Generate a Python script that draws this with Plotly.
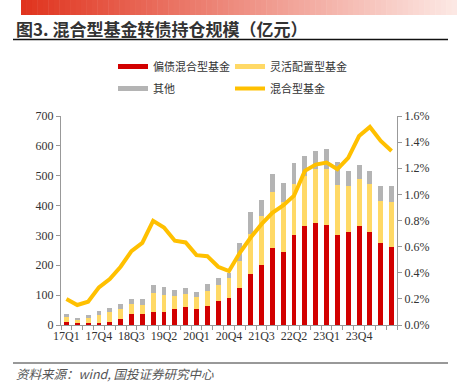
import plotly.graph_objects as go

quarters = ["17Q1","17Q2","17Q3","17Q4","18Q1","18Q2","18Q3","18Q4",
            "19Q1","19Q2","19Q3","19Q4","20Q1","20Q2","20Q3","20Q4",
            "21Q1","21Q2","21Q3","21Q4","22Q1","22Q2","22Q3","22Q4",
            "23Q1","23Q2","23Q3","23Q4","24Q1","24Q2","24Q3"]
tick_labels = ["17Q1","17Q4","18Q3","19Q2","20Q1","20Q4","21Q3","22Q2","23Q1","23Q4"]
bond_mixed = [11, 8, 8, 8, 11, 20, 36, 36, 45, 45, 52, 60, 52, 65, 80, 92,
              125, 170, 201, 259, 245, 301, 331, 342, 334, 302, 311, 331, 311, 273, 262]
flexible = [15, 11, 18, 24, 34, 32, 35, 31, 61, 56, 45, 44, 42, 49, 53, 65,
            88, 134, 164, 186, 166, 172, 169, 180, 188, 166, 154, 157, 162, 143, 149]
others = [11, 3, 6, 16, 12, 17, 17, 21, 28, 25, 19, 21, 15, 24, 24, 18,
          60, 75, 55, 60, 65, 68, 65, 60, 68, 78, 52, 49, 44, 49, 54]
mixed_ratio = [0.199, 0.153, 0.178, 0.288, 0.352, 0.446, 0.566, 0.628, 0.797, 0.747,
               0.645, 0.632, 0.535, 0.527, 0.446, 0.413, 0.553, 0.670, 0.772, 0.859,
               0.915, 0.990, 1.180, 1.228, 1.243, 1.193, 1.279, 1.447, 1.516, 1.409, 1.332]
left_ticks = [0, 100, 200, 300, 400, 500, 600, 700]
right_ticks = [0.0, 0.2, 0.4, 0.6, 0.8, 1.0, 1.2, 1.4, 1.6]

names = ["偏债混合型基金", "灵活配置型基金", "其他", "混合型基金"]
RED, YEL, GRY, ORG = "#D20000", "#FFD966", "#B4B4B4", "#FFC000"

xs = list(range(len(quarters)))
tick_pos = [quarters.index(q) for q in tick_labels]
ratio_frac = [v / 100 for v in mixed_ratio]

fig = go.Figure()
for vals, col in [(bond_mixed, RED), (flexible, YEL), (others, GRY)]:
    fig.add_trace(go.Bar(x=xs, y=vals, marker=dict(color=col, line=dict(width=0)),
                         showlegend=False, yaxis="y"))
fig.add_trace(go.Scatter(x=xs, y=ratio_frac, mode="lines", line=dict(color=ORG, width=4),
                         showlegend=False, yaxis="y2"))

# legend entries
leg_font = dict(family="Noto Sans CJK SC", size=11, color="#333333")
for name, col, lg, w in [(names[0], RED, "legend", 5), (names[2], GRY, "legend", 5),
                         (names[1], YEL, "legend2", 5), (names[3], ORG, "legend2", 4)]:
    fig.add_trace(go.Scatter(x=[None], y=[None], mode="lines", name=name,
                             line=dict(color=col, width=w), legend=lg,
                             legendgroup=name, showlegend=True))

L, R, T, B = 61, 60, 116, 65
W, H = 457, 390
pw = W - L - R
ph = H - T - B

def px2paper_x(px):
    return (px - L) / pw

def py2paper_y(py):
    return (H - B - py) / ph

shapes = []
# gradient header band
n = 80
x0, x1 = 21, 457
c0 = (224, 52, 30)
c1 = (252, 232, 228)
for i in range(n):
    t = i / (n - 1)
    c = tuple(int(round(c0[k] + (c1[k] - c0[k]) * t)) for k in range(3))
    xa = x0 + (x1 - x0) * i / n
    xb = x0 + (x1 - x0) * (i + 1) / n + 0.5
    shapes.append(dict(type="rect", xref="paper", yref="paper",
                       x0=px2paper_x(xa), x1=px2paper_x(xb),
                       y0=py2paper_y(15), y1=py2paper_y(0),
                       fillcolor="rgb(%d,%d,%d)" % c, line=dict(width=0), layer="below"))
shapes.append(dict(type="line", xref="paper", yref="paper",
                   x0=px2paper_x(13), x1=px2paper_x(448),
                   y0=py2paper_y(39.5), y1=py2paper_y(39.5),
                   line=dict(color="#111111", width=1.5)))
shapes.append(dict(type="line", xref="paper", yref="paper",
                   x0=px2paper_x(13), x1=px2paper_x(448),
                   y0=py2paper_y(363), y1=py2paper_y(363),
                   line=dict(color="#333333", width=1)))

annotations = [
    dict(text="<b>图3. 混合型基金转债持仓规模（亿元）</b>", xref="paper", yref="paper",
         x=px2paper_x(14), y=py2paper_y(29), xanchor="left", yanchor="middle",
         showarrow=False, font=dict(family="Noto Sans CJK SC", size=17, color="#333333")),
    dict(text="<i>资料来源：wind, 国投证券研究中心</i>", xref="paper", yref="paper",
         x=px2paper_x(14), y=py2paper_y(373), xanchor="left", yanchor="middle",
         showarrow=False, font=dict(family="Noto Sans CJK SC", size=12.5, color="#555555")),
]

tick_font = dict(family="Liberation Serif", size=12, color="#333333")
fig.update_layout(
    width=W, height=H, margin=dict(l=L, r=R, t=T, b=B),
    paper_bgcolor="white", plot_bgcolor="white",
    barmode="stack", bargap=0.55,
    shapes=shapes, annotations=annotations,
    xaxis=dict(range=[-0.5, len(quarters) - 0.5],
               tickvals=tick_pos, ticktext=tick_labels,
               ticks="", tickfont=tick_font, showgrid=False, zeroline=False,
               showline=True, linecolor="#999999", linewidth=1,
               minor=dict(tick0=-0.5, dtick=1, ticks="outside", ticklen=4,
                          tickcolor="#999999", showgrid=False)),
    yaxis=dict(range=[0, 700], tickvals=left_ticks, tickfont=tick_font,
               showgrid=False, zeroline=False, showline=True, linecolor="#999999",
               ticks="outside", ticklen=4, tickcolor="#999999"),
    yaxis2=dict(range=[0, 0.016], tickvals=[v / 100 for v in right_ticks],
                ticktext=["%.1f%%" % v for v in right_ticks], tickfont=tick_font,
                overlaying="y", side="right", showgrid=False, zeroline=False,
                showline=True, linecolor="#999999", ticks="outside", ticklen=4,
                tickcolor="#999999"),
    legend=dict(x=px2paper_x(113), y=py2paper_y(52), xanchor="left", yanchor="top",
                orientation="v", font=leg_font, tracegroupgap=3,
                bgcolor="rgba(0,0,0,0)", borderwidth=0),
    legend2=dict(x=px2paper_x(230), y=py2paper_y(52), xanchor="left", yanchor="top",
                 orientation="v", font=leg_font, tracegroupgap=3,
                 bgcolor="rgba(0,0,0,0)", borderwidth=0),
)
fig.write_html("out.html", config={"displayModeBar": False},
               post_script="document.body.style.margin='0';")
